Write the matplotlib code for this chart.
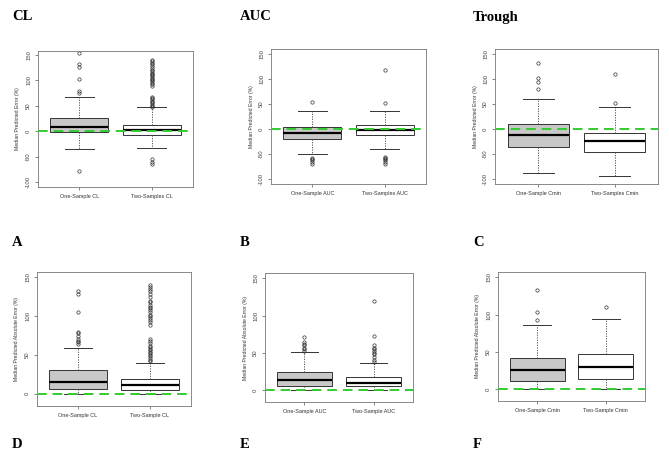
import matplotlib
matplotlib.use("Agg")
import matplotlib.pyplot as plt

W, H = 669, 458

# box stats: (q1, median, q3, whisker low, whisker high, fliers)
labels_top = [["One-Sample CL", "Two-Samples CL"],
              ["One-Sample AUC", "Two-Samples AUC"],
              ["One-Sample Cmin", "Two-Samples Cmin"]]
labels_bot = [["One-Sample CL", "Two-Sample CL"],
              ["One-Sample AUC", "Two-Sample AUC"],
              ["One-Sample Cmin", "Two-Sample Cmin"]]

cl_err = [
    (-1, 9, 26, -35, 68, [75, 80, 103, 127, 133, 155, -78]),
    (-8, 3, 13, -34, 47, [48, 50, 52, 55, 58, 60, 63, 65, 68, 90, 92, 95, 98, 100,
                          103, 105, 108, 110, 113, 115, 118, 120, 125, 128, 132,
                          135, 138, 140, -55, -60, -65]),
]
auc_err = [
    (-20, -7, 4, -49, 36, [54, -58, -60, -62, -65, -70]),
    (-12, -1, 8, -39, 36, [52, 118, -55, -58, -60, -62, -65, -70]),
]
cmin_err = [
    (-35, -11, 11, -87, 60, [81, 95, 103, 133]),
    (-45, -24, -8, -93, 45, [52, 110]),
]
cl_abs = [
    (6, 15, 30, 0, 59, [64, 66, 68, 70, 75, 78, 80, 105, 128, 133]),
    (5, 11, 19, 0, 40, [42, 44, 46, 48, 50, 52, 54, 56, 58, 60, 62, 65, 68, 70,
                        88, 92, 95, 98, 100, 102, 105, 108, 110, 112, 115, 118,
                        120, 125, 128, 132, 135, 138, 140]),
]
auc_abs = [
    (6, 13, 24, 0, 51, [53, 55, 57, 60, 62, 65, 71]),
    (6, 10, 18, 0, 36, [38, 40, 45, 48, 50, 53, 55, 57, 60, 72, 120]),
]
cmin_abs = [
    (11, 26, 42, 0, 86, [93, 103, 133]),
    (14, 29, 47, 0, 94, [110]),
]

panels = [
    # data, labels, ylabel, yticks, ylim, rect (px: left, top, right, bottom)
    (cl_err, labels_top[0], "Median Predicted Error (%)", [-100, -50, 0, 50, 100, 150], (-110, 158), (38, 51, 193, 187)),
    (auc_err, labels_top[1], "Median Predicted Error (%)", [-100, -50, 0, 50, 100, 150], (-110, 160), (271, 49, 426, 184)),
    (cmin_err, labels_top[2], "Median Predicted Error (%)", [-100, -50, 0, 50, 100, 150], (-110, 160), (495, 49, 658, 184)),
    (cl_abs, labels_bot[0], "Median Predicted Absolute Error (%)", [0, 50, 100, 150], (-16, 157), (37, 272, 191, 406)),
    (auc_abs, labels_bot[1], "Median Predicted Absolute Error (%)", [0, 50, 100, 150], (-16, 157), (265, 273, 413, 402)),
    (cmin_abs, labels_bot[2], "Median Predicted Absolute Error (%)", [0, 50, 100, 150], (-16, 157), (498, 272, 645, 401)),
]

fig = plt.figure(figsize=(W / 100, H / 100), dpi=100)
fig.patch.set_facecolor("white")

for data, labs, ylab, yt, ylim, (l, t, r, b) in panels:
    ax = fig.add_axes([l / W, 1 - b / H, (r - l) / W, (b - t) / H])
    stats = []
    for (q1, med, q3, lo, hi, fl), lab in zip(data, labs):
        stats.append(dict(q1=q1, med=med, q3=q3, whislo=lo, whishi=hi,
                          fliers=fl, label=lab))
    bp = ax.bxp(stats, positions=[1, 2], widths=0.8, patch_artist=True,
                boxprops=dict(edgecolor="#333333", linewidth=0.7),
                whiskerprops=dict(color="#444444", linestyle=(0, (1.5, 1.5)), linewidth=0.6),
                capprops=dict(color="#333333", linewidth=0.7),
                medianprops=dict(color="black", linewidth=1.6),
                flierprops=dict(marker="o", markerfacecolor="none",
                                markeredgecolor="#333333", markersize=2.4,
                                markeredgewidth=0.5))
    bp["boxes"][0].set_facecolor("#c8c8c8")
    bp["boxes"][1].set_facecolor("white")
    ax.axhline(0, color="#33cc33", linestyle=(0, (5, 3)), linewidth=1.4, zorder=5)
    ax.set_xlim(0.43, 2.57)
    ax.set_ylim(*ylim)
    ax.set_yticks(yt)
    ax.set_yticklabels([str(v) for v in yt], rotation=90, va="center",
                       fontsize=4.3, family="Liberation Sans", color="#444444")
    ax.set_xticks([1, 2])
    ax.set_xticklabels(labs, fontsize=4.0, family="Liberation Sans", color="#333333")
    ax.set_ylabel(ylab, fontsize=3.7, family="Liberation Sans", color="#333333", labelpad=4)
    ax.tick_params(length=2, width=0.5, color="#555555", pad=3)
    for s in ax.spines.values():
        s.set_color("#777777")
        s.set_linewidth(0.6)

titles = [("CL", 12, 17), ("AUC", 240, 17), ("Trough", 473, 17),
          ("A", 12, 242), ("B", 240, 242), ("C", 473, 242),
          ("D", 12, 445), ("E", 240, 445), ("F", 473, 445)]
for txt, x, y in titles:
    fig.text(x / W, 1 - y / H, txt, fontsize=10.5, fontweight="bold",
             family="Liberation Serif", va="center", ha="left")

fig.savefig("out.png", dpi=100)
